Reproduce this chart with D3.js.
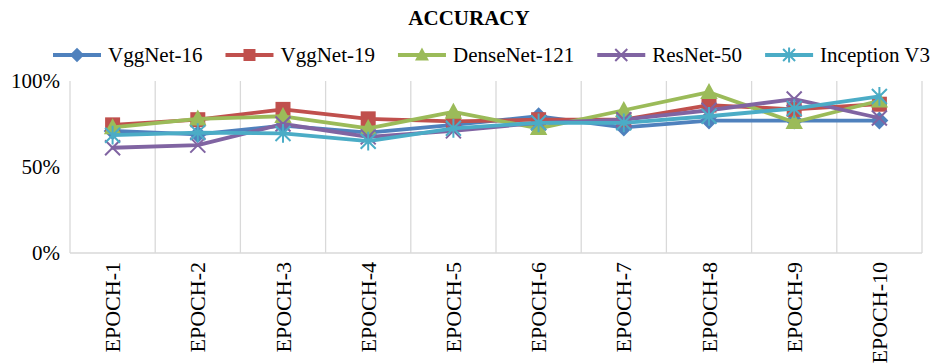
<!DOCTYPE html>
<html>
<head>
<meta charset="utf-8">
<script src="https://cdn.jsdelivr.net/npm/d3@7/dist/d3.min.js"></script>
<style>
  html, body { margin: 0; padding: 0; background: #fff; }
  svg { display: block; }
  svg text { font-family: "Liberation Serif", "Times New Roman", "DejaVu Serif", serif; }
</style>
</head>
<body>
<svg id="chart" width="935" height="363"></svg>
<script>
const title = "ACCURACY";
const categories = ["EPOCH-1","EPOCH-2","EPOCH-3","EPOCH-4","EPOCH-5","EPOCH-6","EPOCH-7","EPOCH-8","EPOCH-9","EPOCH-10"];
const seriesNames = ["VggNet-16","VggNet-19","DenseNet-121","ResNet-50","Inception V3"];
const vggnet16   = [0.71, 0.69, 0.74, 0.70, 0.745, 0.795, 0.73, 0.77, 0.77, 0.77];
const vggnet19   = [0.745, 0.775, 0.835, 0.78, 0.765, 0.775, 0.775, 0.86, 0.835, 0.865];
const densenet121= [0.73, 0.78, 0.795, 0.725, 0.82, 0.725, 0.83, 0.935, 0.76, 0.885];
const resnet50   = [0.612, 0.627, 0.75, 0.675, 0.71, 0.757, 0.775, 0.83, 0.895, 0.785];
const inceptionV3= [0.685, 0.70, 0.695, 0.65, 0.725, 0.757, 0.757, 0.795, 0.84, 0.91];
const yTicks = [0, 0.5, 1];
const colors = ["#4F81BD","#C0504D","#9BBB59","#8064A2","#4BACC6"];
const markers = ["diamond","square","triangle","x","star"];

const seriesValues = [vggnet16, vggnet19, densenet121, resnet50, inceptionV3];
const FONT = "'Liberation Serif', 'Times New Roman', 'DejaVu Serif', serif";

const svg = d3.select("#chart");
const margin = {left: 70, right: 13, top: 81, bottom: 110};
const W = 935, H = 363;
const plotW = W - margin.left - margin.right;
const plotH = H - margin.top - margin.bottom;

const x = d3.scaleBand().domain(categories).range([margin.left, margin.left + plotW]).paddingInner(0).paddingOuter(0);
const y = d3.scaleLinear().domain([0, 1]).range([margin.top + plotH, margin.top]);

// Title
svg.append("text").attr("x", 469).attr("y", 25).attr("text-anchor", "middle")
  .attr("font-family", FONT)
  .attr("font-size", 21).attr("font-weight", "bold").attr("fill", "#000").text(title);

// Vertical gridlines (category boundaries)
const g = svg.append("g");
const bounds = categories.map(c => x(c)).concat([x(categories[categories.length-1]) + x.bandwidth()]);
g.selectAll("line.grid").data(bounds).enter().append("line")
  .attr("x1", d => d).attr("x2", d => d)
  .attr("y1", y(1)).attr("y2", y(0))
  .attr("stroke", "#D9D9D9").attr("stroke-width", 1.3);

// x axis baseline
svg.append("line").attr("x1", margin.left).attr("x2", margin.left + plotW)
  .attr("y1", y(0)).attr("y2", y(0)).attr("stroke", "#D9D9D9").attr("stroke-width", 1.3);

// y tick labels
svg.append("g").selectAll("text").data(yTicks).enter().append("text")
  .attr("font-family", FONT)
  .attr("x", 60).attr("y", d => y(d)).attr("dy", "0.35em")
  .attr("text-anchor", "end").attr("font-size", 21).attr("fill", "#000")
  .text(d => d3.format(".0%")(d));

// x labels rotated
svg.append("g").selectAll("text").data(categories).enter().append("text")
  .attr("font-family", FONT)
  .attr("transform", d => `translate(${x(d) + x.bandwidth()/2 + 7.5},${y(0) + 9}) rotate(-90)`)
  .attr("text-anchor", "end").attr("font-size", 22).attr("fill", "#000")
  .text(d => d);

function drawMarker(sel, type, color, size) {
  const s = size;
  if (type === "diamond") {
    sel.append("path").attr("d", `M0,${-s*0.6}L${s*0.6},0L0,${s*0.6}L${-s*0.6},0Z`).attr("fill", color);
  } else if (type === "square") {
    sel.append("rect").attr("x", -s/2).attr("y", -s/2).attr("width", s).attr("height", s).attr("fill", color);
  } else if (type === "triangle") {
    sel.append("path").attr("d", `M0,${-s*0.62}L${s*0.58},${s*0.45}L${-s*0.58},${s*0.45}Z`).attr("fill", color);
  } else if (type === "x") {
    const h = s*0.5;
    sel.append("path").attr("d", `M${-h},${-h}L${h},${h}M${-h},${h}L${h},${-h}`)
      .attr("stroke", color).attr("stroke-width", 2).attr("fill", "none");
  } else if (type === "star") {
    const h = s*0.5;
    sel.append("path").attr("d", `M${-h},${-h}L${h},${h}M${-h},${h}L${h},${-h}M0,${-h*1.25}L0,${h*1.25}`)
      .attr("stroke", color).attr("stroke-width", 2).attr("fill", "none");
  }
}

const line = d3.line().x((d, i) => x(categories[i]) + x.bandwidth()/2).y(d => y(d));

seriesValues.forEach((vals, si) => {
  const sg = svg.append("g");
  sg.append("path").datum(vals).attr("d", line)
    .attr("fill", "none").attr("stroke", colors[si]).attr("stroke-width", 3.8)
    .attr("stroke-linejoin", "round").attr("stroke-linecap", "round");
  vals.forEach((v, i) => {
    const mg = sg.append("g").attr("transform", `translate(${x(categories[i]) + x.bandwidth()/2},${y(v)})`);
    drawMarker(mg, markers[si], colors[si], 15);
  });
});

// Legend
const legend = svg.append("g");
let lx = 53;
const ly = 55;
seriesNames.forEach((name, si) => {
  const it = legend.append("g").attr("transform", `translate(${lx},${ly})`);
  it.append("line").attr("x1", 0).attr("x2", 48).attr("y1", 0).attr("y2", 0)
    .attr("stroke", colors[si]).attr("stroke-width", 3.8);
  const mg = it.append("g").attr("transform", "translate(24,0)");
  drawMarker(mg, markers[si], colors[si], 12);
  const t = it.append("text").attr("x", 55).attr("y", 0).attr("dy", "0.35em")
    .attr("font-family", FONT)
    .attr("font-size", 21).attr("fill", "#000").text(name);
  lx += 55 + t.node().getComputedTextLength() + 23;
});
</script>
</body>
</html>
